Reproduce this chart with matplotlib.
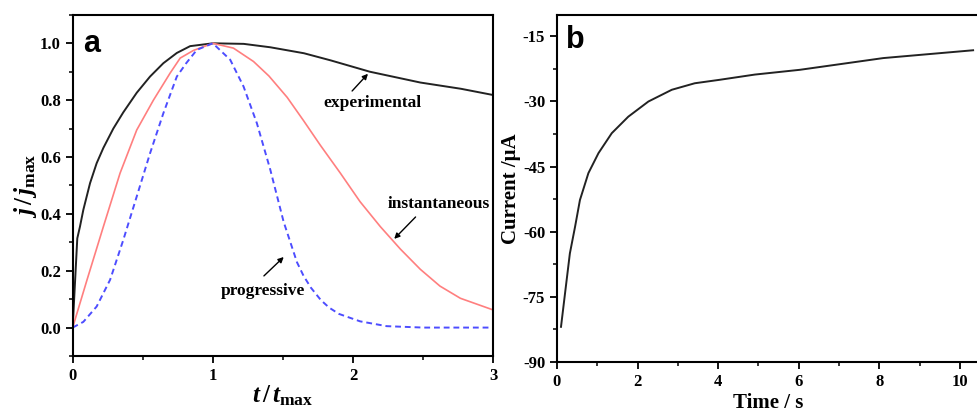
import matplotlib
matplotlib.use("Agg")
import matplotlib.pyplot as plt
from matplotlib.ticker import MultipleLocator, FormatStrFormatter

# panel a: normalised transients
t_exp = [0.0, 0.033, 0.052, 0.076, 0.124, 0.171, 0.219, 0.29, 0.361, 0.457, 0.552,
         0.647, 0.743, 0.838, 1.0, 1.22, 1.41, 1.65, 1.84, 2.12, 2.48, 2.77, 3.0]
j_exp = [0.0, 0.314, 0.355, 0.414, 0.508, 0.578, 0.632, 0.70, 0.757, 0.826, 0.883,
         0.93, 0.966, 0.99, 1.0, 0.998, 0.986, 0.965, 0.94, 0.90, 0.862, 0.84, 0.818]

t_inst = [0.0, 0.10, 0.219, 0.338, 0.457, 0.576, 0.695, 0.767, 0.862, 1.0, 1.147, 1.29,
          1.40, 1.53, 1.647, 1.766, 1.91, 2.05, 2.195, 2.338, 2.48, 2.62, 2.766, 3.0]
j_inst = [0.0, 0.164, 0.355, 0.543, 0.695, 0.80, 0.895, 0.948, 0.975, 1.0, 0.983, 0.936,
          0.885, 0.81, 0.728, 0.642, 0.543, 0.443, 0.355, 0.276, 0.205, 0.146, 0.103, 0.062]

t_prog = [0.0, 0.076, 0.171, 0.267, 0.361, 0.457, 0.552, 0.647, 0.743, 0.81, 0.886, 1.0,
          1.124, 1.219, 1.314, 1.41, 1.505, 1.6, 1.647, 1.70, 1.77, 1.83, 1.90, 2.05,
          2.24, 2.5, 3.0]
j_prog = [0.0, 0.02, 0.074, 0.168, 0.308, 0.461, 0.613, 0.754, 0.883, 0.93, 0.977, 1.0,
          0.942, 0.848, 0.719, 0.555, 0.372, 0.23, 0.182, 0.14, 0.097, 0.07, 0.048, 0.022,
          0.005, 0.0, 0.0]

# panel b: chronoamperogram
time_s = [0.1, 0.2, 0.32, 0.45, 0.57, 0.78, 1.03, 1.36, 1.77, 2.27, 2.85, 3.42, 4.04,
          4.91, 6.03, 8.1, 10.33]
current_uA = [-81.9, -74.2, -65.0, -58.8, -52.7, -46.5, -41.9, -37.3, -33.5, -30.0,
              -27.3, -25.8, -25.0, -23.8, -22.7, -20.0, -18.2]

plt.rcParams.update({
    "font.family": "Liberation Serif",
    "font.weight": "bold",
    "axes.labelweight": "bold",
    "axes.unicode_minus": False,
    "mathtext.fontset": "custom",
    "mathtext.rm": "Liberation Serif:bold",
    "mathtext.it": "Liberation Serif:italic:bold",
    "mathtext.bf": "Liberation Serif:bold",
    "axes.linewidth": 1.5,
    "xtick.direction": "out", "ytick.direction": "out",
    "xtick.major.size": 5, "ytick.major.size": 5,
    "xtick.minor.size": 3, "ytick.minor.size": 3,
    "xtick.major.width": 1.3, "ytick.major.width": 1.3,
    "xtick.minor.width": 1.1, "ytick.minor.width": 1.1,
    "xtick.labelsize": 12, "ytick.labelsize": 12,
})

fig = plt.figure(figsize=(9.78, 4.13), dpi=100)
ax1 = fig.add_axes([0.0743, 0.138, 0.430, 0.826])
ax2 = fig.add_axes([0.5695, 0.1235, 0.4325, 0.841])

# ---- panel a
ax1.plot(t_exp, j_exp, color="#222222", lw=1.4)
ax1.plot(t_inst, j_inst, color="#ff7f7f", lw=1.2)
ax1.plot(t_prog, j_prog, color="#4d4dff", lw=1.4, ls=(0, (3, 2)))
ax1.set_xlim(0, 3)
ax1.set_ylim(-0.1, 1.1)
ax1.xaxis.set_major_locator(MultipleLocator(1))
ax1.xaxis.set_minor_locator(MultipleLocator(0.5))
ax1.yaxis.set_major_locator(MultipleLocator(0.2))
ax1.yaxis.set_minor_locator(MultipleLocator(0.1))
ax1.yaxis.set_major_formatter(FormatStrFormatter("%.1f"))
ax1.set_xlabel(r"$t\,/\,t_{\mathrm{max}}$", fontsize=18, labelpad=0)
ax1.set_ylabel(r"$j\,/\,j_{\mathrm{max}}$", fontsize=18, labelpad=1)
ax1.text(0.025, 0.96, "a", transform=ax1.transAxes, fontsize=22, fontweight="bold",
         family="Liberation Sans", va="top", ha="left")

arr = dict(arrowstyle="-|>", color="black", lw=1.0, mutation_scale=8)
ax1.annotate("", xy=(2.12, 0.90), xytext=(1.98, 0.825), arrowprops=arr)
ax1.text(2.14, 0.79, "experimental", fontsize=12.5, ha="center", va="center")
ax1.annotate("", xy=(2.28, 0.305), xytext=(2.46, 0.396), arrowprops=arr)
ax1.text(2.61, 0.435, "instantaneous", fontsize=12.5, ha="center", va="center")
ax1.annotate("", xy=(1.52, 0.255), xytext=(1.35, 0.175), arrowprops=arr)
ax1.text(1.36, 0.13, "progressive", fontsize=12.5, ha="center", va="center")

# ---- panel b
ax2.plot(time_s, current_uA, color="#222222", lw=1.4)
ax2.set_xlim(0, 10.5)
ax2.set_ylim(-90, -10)
ax2.xaxis.set_major_locator(MultipleLocator(2))
ax2.xaxis.set_minor_locator(MultipleLocator(1))
ax2.yaxis.set_major_locator(MultipleLocator(15))
ax2.yaxis.set_minor_locator(MultipleLocator(7.5))
ax2.set_xlabel("Time / s", fontsize=15, labelpad=2)
ax2.set_ylabel("Current /μA", fontsize=15, labelpad=1)
ax2.text(0.022, 0.97, "b", transform=ax2.transAxes, fontsize=22, fontweight="bold",
         family="Liberation Sans", va="top", ha="left")

fig.savefig("out.png", dpi=100)
